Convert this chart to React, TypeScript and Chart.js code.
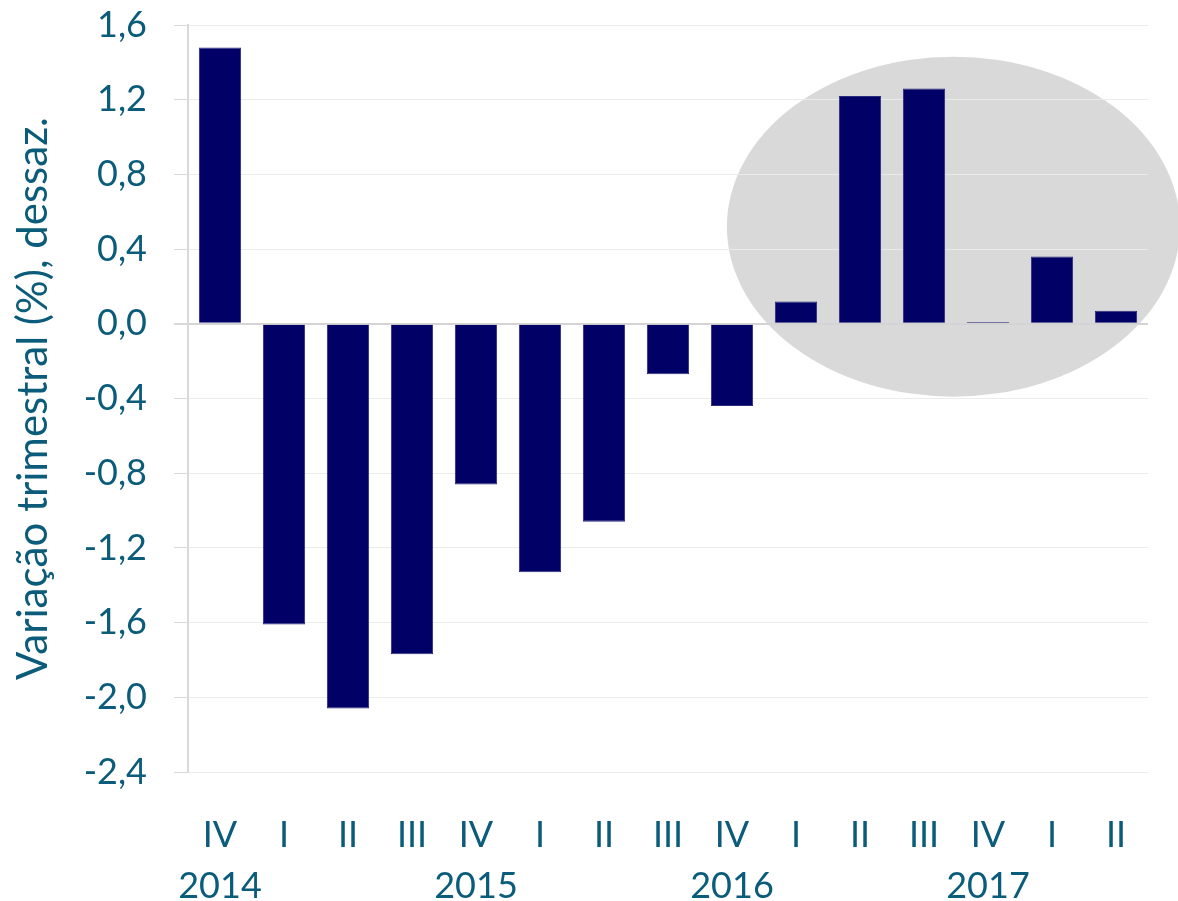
import React, { useEffect, useRef } from "react";
import { Chart, registerables } from "chart.js";

Chart.register(...registerables);

// Quarterly change (%), seasonally adjusted
const quarters = ["IV", "I", "II", "III", "IV", "I", "II", "III", "IV", "I", "II", "III", "IV", "I", "II"];
const years = ["2014", "", "", "", "2015", "", "", "", "2016", "", "", "", "2017", "", ""];
const values = [1.48, -1.61, -2.06, -1.77, -0.86, -1.33, -1.06, -0.27, -0.44, 0.12, 1.22, 1.26, 0.01, 0.36, 0.07];

// Highlighted recent period, in category / value units
const highlightCategoryRange = [7.92, 15.0];
const highlightValueRange = [-0.39, 1.43];

const TEXT = "#0b5c7a";
const FONT = "Lato";

const highlightPlugin = {
  id: "highlightEllipse",
  beforeDraw(chart: any) {
    const { ctx, scales } = chart;
    const x = scales.x;
    const y = scales.y;
    const x0 = x.getPixelForValue(highlightCategoryRange[0]);
    const x1 = x.getPixelForValue(highlightCategoryRange[1]);
    const y0 = y.getPixelForValue(highlightValueRange[1]);
    const y1 = y.getPixelForValue(highlightValueRange[0]);
    ctx.save();
    ctx.beginPath();
    ctx.ellipse((x0 + x1) / 2, (y0 + y1) / 2, (x1 - x0) / 2, (y1 - y0) / 2, 0, 0, Math.PI * 2);
    ctx.fillStyle = "#d9d9d9";
    ctx.fill();
    ctx.restore();
  },
};

export default function App() {
  const ref = useRef<HTMLCanvasElement | null>(null);

  useEffect(() => {
    if (!ref.current) return;
    const chart = new Chart(ref.current, {
      type: "bar",
      data: {
        labels: quarters.map((q, i) => [q, years[i]]),
        datasets: [
          {
            data: values,
            backgroundColor: "#000066",
            borderColor: "#2b2b7d",
            borderWidth: 1,
            categoryPercentage: 1,
            barPercentage: 0.66,
          },
        ],
      },
      options: {
        responsive: false,
        animation: false,
        layout: { padding: { top: 25, right: 30, left: 0, bottom: 0 } },
        plugins: { legend: { display: false }, tooltip: { enabled: false } },
        scales: {
          x: {
            grid: { display: false, drawTicks: false },
            border: { display: false },
            ticks: {
              color: TEXT,
              font: { family: FONT, size: 36, lineHeight: 1.42 },
              padding: 38,
              maxRotation: 0,
              autoSkip: false,
            },
            afterFit(scale: any) {
              scale.height = 129;
            },
          },
          y: {
            min: -2.4,
            max: 1.6,
            ticks: {
              stepSize: 0.4,
              color: TEXT,
              font: { family: FONT, size: 36 },
              padding: 27,
              callback: (v: any) => Number(v).toFixed(1).replace(".", ","),
            },
            grid: {
              color: (c: any) => (c.tick && Math.abs(c.tick.value) < 1e-9 ? "#d4d4d4" : "#ebebeb"),
              lineWidth: (c: any) => (c.tick && Math.abs(c.tick.value) < 1e-9 ? 2 : 1),
              tickColor: "#d9d9d9",
              tickLength: 14,
            },
            border: { color: "#d9d9d9", width: 2 },
            title: {
              display: true,
              text: "Variação trimestral (%), dessaz.",
              color: TEXT,
              font: { family: FONT, size: 42 },
              padding: { top: 8, bottom: 0 },
            },
            afterFit(scale: any) {
              scale.width = 188;
              scale.paddingTop = 0;
              scale.paddingBottom = 0;
            },
          },
        },
      },
      plugins: [highlightPlugin],
    });
    return () => chart.destroy();
  }, []);

  return (
    <div style={{ position: "absolute", left: 0, top: 0, width: 1178, height: 901, background: "#fff" }}>
      <canvas ref={ref} width={1178} height={901} />
    </div>
  );
}
